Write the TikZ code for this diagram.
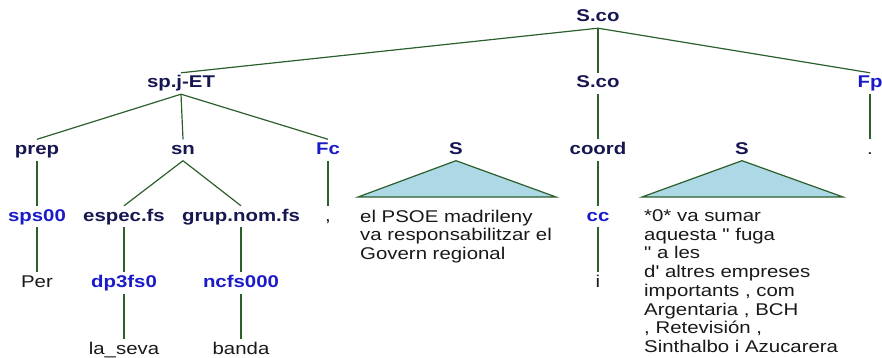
\documentclass[tikz,border=0pt]{standalone}
\usepackage{fontspec}
\setmainfont[FakeStretch=1.2, Ligatures=TeXOff]{Liberation Sans}
\definecolor{catcol}{RGB}{22,22,80}
\definecolor{tagcol}{RGB}{26,26,200}
\definecolor{wordcol}{RGB}{25,25,25}
\definecolor{linecol}{RGB}{45,95,45}
\definecolor{trifill}{RGB}{173,216,230}
\begin{document}
\begin{tikzpicture}[
    x=1pt, y=-1pt,
    cat/.style={font=\fontsize{17}{18.7}\selectfont\bfseries, text=catcol,
                text height=12pt, text depth=3pt, inner xsep=0pt, inner ysep=3pt},
    tag/.style={cat, text=tagcol},
    word/.style={cat, font=\fontsize{17}{18.7}\selectfont, text=wordcol},
    phrase/.style={font=\fontsize{17}{18.7}\selectfont, text=wordcol, align=left,
                   anchor=north west, inner sep=0pt},
    branch/.style={draw=linecol, line width=1.2pt},
    tri/.style={branch, fill=trifill}
  ]
    \useasboundingbox (0,0) rectangle (882,358);

    \node[cat] (top)   at (598,17.5) {S.co};
    \node[cat] (spj)   at (181,83.5) {sp.j-ET};
    \node[cat] (sco)   at (598,83.5) {S.co};
    \node[tag] (fp)    at (870,83.5) {Fp};

    \node[cat] (prep)  at (37,150)   {prep};
    \node[cat] (sn)    at (183,150)  {sn};
    \node[tag] (fc)    at (328,150)  {Fc};
    \node[cat] (sl)    at (456,150)  {S};
    \node[cat] (coord) at (598,150)  {coord};
    \node[cat] (sr)    at (742,150)  {S};
    \node[word] (dot)  at (870,150)  {.};

    \node[tag] (sps)   at (37,216.5)  {sps00};
    \node[cat] (espec) at (124,216.5) {espec.fs};
    \node[cat] (grup)  at (241,216.5) {grup.nom.fs};
    \node[word] (comma) at (328,216.5) {,};
    \node[tag] (cc)    at (598,216.5) {cc};

    \node[word] (per)  at (37,283)  {Per};
    \node[tag] (dp)    at (124,283) {dp3fs0};
    \node[tag] (nc)    at (241,283) {ncfs000};
    \node[word] (i)    at (598,283) {i};

    \node[word] (seva)  at (124,349.5) {la\_seva};
    \node[word] (banda) at (241,349.5) {banda};

    \node[phrase] (psoe) at (360,209.5)
      {el PSOE madrileny\\va responsabilitzar el\\Govern regional};
    \node[phrase] (fuga) at (644,209.5)
      {*0* va sumar\\aquesta " fuga\\" a les\\d' altres empreses\\importants , com\\Argentaria , BCH\\, Retevisión ,\\Sinthalbo i Azucarera};

    \foreach \a/\b in {top/spj, top/sco, top/fp, spj/prep, spj/sn, spj/fc,
                       sco/coord, fp/dot, prep/sps, sn/espec, sn/grup, fc/comma,
                       coord/cc, sps/per, espec/dp, grup/nc, cc/i, dp/seva, nc/banda}
      \draw[branch] (\a.south) -- (\b.north);

    \draw[tri] (sl.south) -- (358,197) -- (556,197) -- cycle;
    \draw[tri] (sr.south) -- (642,197) -- (843,197) -- cycle;
  \end{tikzpicture}
\end{document}
